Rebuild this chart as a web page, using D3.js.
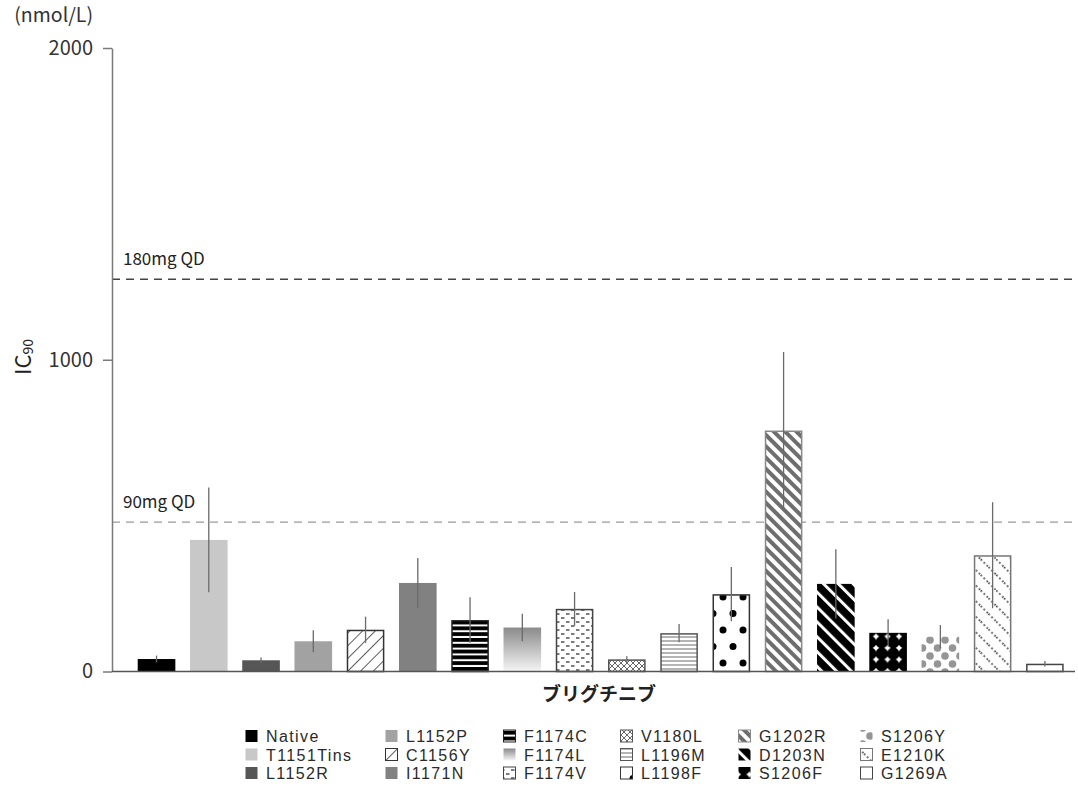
<!DOCTYPE html>
<html>
<head>
<meta charset="utf-8">
<script src="https://cdn.jsdelivr.net/npm/d3@7"></script>
<style>
  html, body { margin: 0; padding: 0; background: #fff; }
  svg { display: block; }
  text { font-family: "Noto Sans CJK JP", "Noto Sans", sans-serif; }
</style>
</head>
<body>
<svg id="chart" width="1078" height="798"></svg>
<script>
// ---------- data ----------
const categories = ["Native","T1151Tins","L1152R","L1152P","C1156Y","I1171N","F1174C","F1174L","F1174V",
                    "V1180L","L1196M","L1198F","G1202R","D1203N","S1206F","S1206Y","E1210K","G1269A"];
const means  = [40, 422, 36, 97, 134, 284, 165, 141, 201, 39, 123, 248, 773, 281, 124, 112, 373, 25];
const errors = [11, 168,  9, 35,  42,  80,  73,  44,  54, 10,  29,  87, 252, 111, 44,  37, 170,  9];
const yTicks = [0, 1000, 2000];
const refLabels = ["180mg QD", "90mg QD"];
const refValues = [1258, 479];
const yUnit = "(nmol/L)";
const xTitle = "ブリグチニブ";

// ---------- styles (per category fill ids) ----------
const fillStyle = {
  "Native":    {fill: "#000000", stroke: "none"},
  "T1151Tins": {fill: "#c8c8c8", stroke: "none"},
  "L1152R":    {fill: "#565656", stroke: "none"},
  "L1152P":    {fill: "#a2a2a2", stroke: "none"},
  "C1156Y":    {fill: "url(#pDiagUp)", stroke: "#333"},
  "I1171N":    {fill: "#818181", stroke: "none"},
  "F1174C":    {fill: "url(#pHStripeBlack)", stroke: "#222"},
  "F1174L":    {fill: "url(#gGrad)", stroke: "none"},
  "F1174V":    {fill: "url(#pDash)", stroke: "#444"},
  "V1180L":    {fill: "url(#pCross)", stroke: "#555"},
  "L1196M":    {fill: "url(#pHLines)", stroke: "#555"},
  "L1198F":    {fill: "url(#pBigDots)", stroke: "#333"},
  "G1202R":    {fill: "url(#pDiagDownGray)", stroke: "#888"},
  "D1203N":    {fill: "url(#pDiagDownBlack)", stroke: "none"},
  "S1206F":    {fill: "url(#pBlackCircles)", stroke: "none"},
  "S1206Y":    {fill: "url(#pGrayDots)", stroke: "none"},
  "E1210K":    {fill: "url(#pDotDiag)", stroke: "#777"},
  "G1269A":    {fill: "#ffffff", stroke: "#444"}
};

const svg = d3.select("#chart");
const defs = svg.append("defs");

// patterns
function pat(id, w, h, transform, ox, oy) {
  const p = defs.append("pattern").attr("id", id).attr("patternUnits", "userSpaceOnUse")
    .attr("width", w).attr("height", h);
  if (transform) p.attr("patternTransform", transform);
  if (ox !== undefined) p.attr("x", ox).attr("y", oy);
  return p;
}
let p;
p = pat("pDiagUp", 9, 9, "rotate(45)");
p.append("rect").attr("width", 9).attr("height", 9).attr("fill", "#fff");
p.append("line").attr("x1", 0).attr("y1", 0).attr("x2", 0).attr("y2", 9).attr("stroke", "#333").attr("stroke-width", 1.6);

p = pat("pHStripeBlack", 6, 5.8);
p.append("rect").attr("width", 6).attr("height", 5.8).attr("fill", "#fff");
p.append("rect").attr("y", 0).attr("width", 6).attr("height", 3.8).attr("fill", "#000");

const grad = defs.append("linearGradient").attr("id", "gGrad").attr("x1", 0).attr("y1", 0).attr("x2", 0).attr("y2", 1);
grad.append("stop").attr("offset", "0%").attr("stop-color", "#8a8a8a");
grad.append("stop").attr("offset", "100%").attr("stop-color", "#f6f6f6");

p = pat("pDash", 10, 8);
p.append("rect").attr("width", 10).attr("height", 8).attr("fill", "#fff");
p.append("line").attr("x1", 1).attr("y1", 2).attr("x2", 4.5).attr("y2", 2).attr("stroke", "#444").attr("stroke-width", 1.4);
p.append("line").attr("x1", 6).attr("y1", 6).attr("x2", 9.5).attr("y2", 6).attr("stroke", "#444").attr("stroke-width", 1.4);

p = pat("pCross", 6, 6);
p.append("rect").attr("width", 6).attr("height", 6).attr("fill", "#fff");
p.append("path").attr("d", "M0,0L6,6M6,0L0,6").attr("stroke", "#666").attr("stroke-width", 1);

p = pat("pHLines", 6, 4);
p.append("rect").attr("width", 6).attr("height", 4).attr("fill", "#fff");
p.append("line").attr("x1", 0).attr("y1", 1).attr("x2", 6).attr("y2", 1).attr("stroke", "#777").attr("stroke-width", 1.1);

p = pat("pBigDots", 20, 33, null, 13, -1);
p.append("rect").attr("width", 20).attr("height", 33).attr("fill", "#fff");
[[10, 4], [0, 20.5], [20, 20.5]].forEach(([cx, cy]) =>
  p.append("circle").attr("cx", cx).attr("cy", cy).attr("r", 3.5).attr("fill", "#000"));

p = pat("pDiagDownGray", 8, 8, "rotate(-45)");
p.append("rect").attr("width", 8).attr("height", 8).attr("fill", "#fff");
p.append("rect").attr("x", 0).attr("width", 4).attr("height", 8).attr("fill", "#6e6e6e");

p = pat("pDiagDownBlack", 10.5, 10.5, "rotate(-45)");
p.append("rect").attr("width", 10.5).attr("height", 10.5).attr("fill", "#000");
p.append("rect").attr("x", 0).attr("width", 3).attr("height", 10.5).attr("fill", "#fff");

p = pat("pBlackCircles", 11.5, 11.5, null, 2, 4);
p.append("rect").attr("width", 11.5).attr("height", 11.5).attr("fill", "#fff");
p.append("circle").attr("cx", 5.75).attr("cy", 5.75).attr("r", 6.2).attr("fill", "#000");

p = pat("pGrayDots", 15, 16);
p.append("rect").attr("width", 15).attr("height", 16).attr("fill", "#fff");
[[0, 0], [15, 0], [0, 16], [15, 16], [7.5, 8]].forEach(([cx, cy]) =>
  p.append("circle").attr("cx", cx).attr("cy", cy).attr("r", 3.8).attr("fill", "#959595"));

p = pat("pDotDiag", 11, 11, "rotate(-45)");
p.append("rect").attr("width", 11).attr("height", 11).attr("fill", "#fff");
p.append("line").attr("x1", 1).attr("y1", 0).attr("x2", 1).attr("y2", 11).attr("stroke", "#222")
  .attr("stroke-width", 1.6).attr("stroke-dasharray", "1.6 2.6");

// ---------- scales ----------
const y = d3.scaleLinear().domain([0, 2000]).range([671.5, 48]);
const x = d3.scaleBand().domain(categories).range([130.4, 1071]).paddingInner(0.28).paddingOuter(0.14);
const axisX = 112;

// reference lines
const refStyle = [{stroke: "#444", width: 1.5}, {stroke: "#9a9a9a", width: 1.3}];
refValues.forEach((v, i) => {
  svg.append("line").attr("x1", axisX).attr("x2", 1075).attr("y1", y(v)).attr("y2", y(v))
    .attr("stroke", refStyle[i].stroke).attr("stroke-width", refStyle[i].width).attr("stroke-dasharray", "8 6");
  svg.append("text").attr("x", 123).attr("y", y(v) - 14).attr("font-size", 17).attr("fill", "#222")
    .text(refLabels[i]);
});

// bars
const data = categories.map((c, i) => ({cat: c, mean: means[i], err: errors[i]}));
const inset = d => fillStyle[d.cat].stroke === "none" ? 0 : 0.75;
svg.append("g").selectAll("rect").data(data).join("rect")
  .attr("x", d => x(d.cat) + inset(d))
  .attr("y", d => y(d.mean) + inset(d))
  .attr("width", d => x.bandwidth() - 2 * inset(d))
  .attr("height", d => y(0) - y(d.mean) - inset(d))
  .attr("fill", d => fillStyle[d.cat].fill)
  .attr("stroke", d => fillStyle[d.cat].stroke)
  .attr("stroke-width", 1.5);

// error bars
svg.append("g").selectAll("line").data(data).join("line")
  .attr("x1", d => x(d.cat) + x.bandwidth() / 2).attr("x2", d => x(d.cat) + x.bandwidth() / 2)
  .attr("y1", d => y(d.mean - d.err)).attr("y2", d => y(d.mean + d.err))
  .attr("stroke", "#6a6a6a").attr("stroke-width", 1.3);

// y axis
const yAxis = d3.axisLeft(y).tickValues(yTicks).tickSize(9).tickSizeOuter(0).tickPadding(10).tickFormat(d3.format("d"));
const gy = svg.append("g").attr("transform", `translate(${axisX},0)`).call(yAxis);
gy.select(".domain").attr("stroke", "#7a7a7a").attr("stroke-width", 1.5);
gy.selectAll(".tick line").attr("stroke", "#7a7a7a").attr("stroke-width", 1.5);
gy.selectAll(".tick text").attr("font-size", 20).attr("fill", "#333")
  .style("font-family", '"Noto Sans CJK JP", sans-serif');

// x baseline
svg.append("line").attr("x1", axisX).attr("x2", 1075).attr("y1", y(0)).attr("y2", y(0))
  .attr("stroke", "#555").attr("stroke-width", 1.6);

// unit + y title
svg.append("text").attr("x", 93).attr("y", 22).attr("text-anchor", "end").attr("font-size", 19.5).attr("fill", "#333").text(yUnit);
const yt = svg.append("text").attr("transform", "translate(31,357) rotate(-90)").attr("text-anchor", "middle")
  .attr("font-size", 22).attr("fill", "#222");
yt.append("tspan").text("IC");
yt.append("tspan").attr("font-size", 14).attr("dy", 2).text("90");

// x title
svg.append("text").attr("x", 599).attr("y", 701).attr("text-anchor", "middle").attr("font-size", 19)
  .attr("font-weight", "bold").attr("fill", "#222").text(xTitle);

// legend
const legendCols = [245, 385, 503, 620, 738, 860];
const legendRows = [736, 754.5, 773];
const lg = svg.append("g");
data.forEach((d, i) => {
  const col = Math.floor(i / 3), row = i % 3;
  const gx = legendCols[col], gyy = legendRows[row];
  const st = fillStyle[d.cat];
  lg.append("rect").attr("x", gx + 0.5).attr("y", gyy - 6).attr("width", 12).attr("height", 12)
    .attr("fill", st.fill).attr("stroke", st.stroke === "none" ? "none" : st.stroke).attr("stroke-width", 1);
  lg.append("text").attr("x", gx + 21).attr("y", gyy + 6).attr("font-size", 16)
    .style("font-family", '"Liberation Sans", Arial, sans-serif').attr("letter-spacing", 1.4)
    .attr("fill", "#2a2a2a").text(d.cat);
});
</script>
</body>
</html>
